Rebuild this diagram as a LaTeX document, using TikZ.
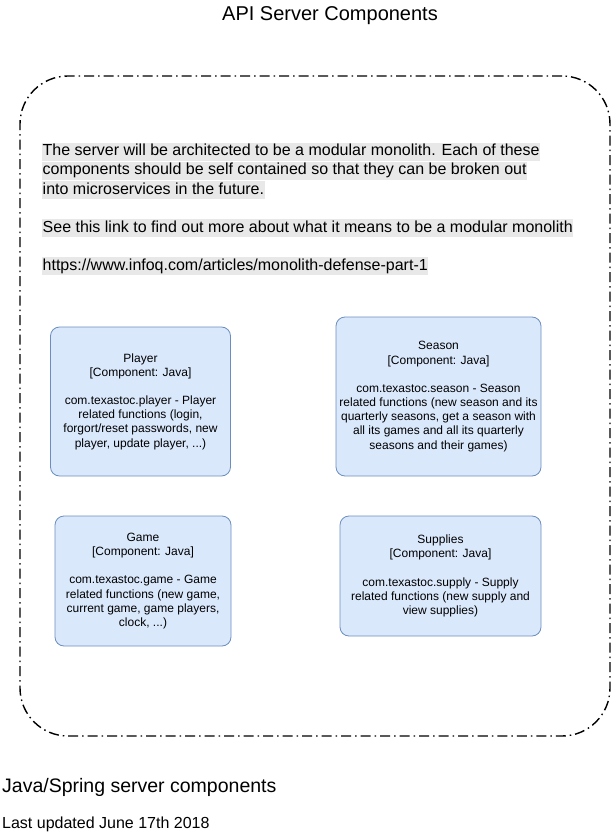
\documentclass[tikz,border=0pt]{standalone}
\usepackage{fontspec}
\setmainfont{Liberation Sans}
\usepackage{xcolor}
\definecolor{cFill}{HTML}{DAE8FC}
\definecolor{cEdge}{HTML}{6C8EBF}
\definecolor{cHigh}{HTML}{E8E8E8}
\usetikzlibrary{positioning}
\tikzset{
  comp-box/.style={draw=cEdge,fill=cFill,rounded corners=9pt,line width=0.8pt,
    align=center,font=\fontsize{12}{14.2}\selectfont},
  group-box/.style={draw=black,line width=1.4pt,rounded corners=48pt,
    dash pattern=on 10pt off 4pt on 1.5pt off 4pt},
  note-line/.style={fill=cHigh,inner sep=0.5pt,text height=12.5pt,text depth=4.5pt,
    font=\fontsize{16}{19}\selectfont},
  title-text/.style={font=\fontsize{20}{24}\selectfont,inner sep=0pt},
}

\begin{document}
\begin{tikzpicture}[x=1pt,y=-1pt]
  \useasboundingbox (0,0) rectangle (612,837);
  \node[title-text] (ttl) at (330,16) {API Server Components};

  % boundary of the server
  \node[group-box,minimum width=590pt,minimum height=660pt] (srv) at (315,406) {};

  % note, every line on its own grey band
  \node[note-line,anchor=west] (n1) at (42,152) {The server will be architected to be a modular monolith. Each of these };
  \node[note-line,anchor=west] (n2) at (42,171) {components should be self contained so that they can be broken out};
  \node[note-line,anchor=west] (n3) at (42,190) {into microservices in the future.};
  \node[note-line,anchor=west] (n4) at (42,228) {See this link to find out more about what it means to be a modular monolith};
  \node[note-line,anchor=west] (n5) at (42,266) {https://www.infoq.com/articles/monolith-defense-part-1};

  % components
  \node[comp-box,minimum width=180pt,minimum height=149pt] (ply) at (140.5,401.5)
    {Player\\{[Component: Java]}\\[14pt]com.texastoc.player - Player\\related functions (login,\\forgort/reset passwords, new\\player, update player, ...)};
  \node[comp-box,minimum width=205pt,minimum height=159pt] (ssn) at (438.5,396.5)
    {Season\\{[Component: Java]}\\[14pt]com.texastoc.season - Season\\related functions (new season and its\\quarterly seasons, get a season with\\all its games and all its quarterly\\seasons and their games)};
  \node[comp-box,minimum width=176pt,minimum height=130pt] (gme) at (143,581)
    {Game\\{[Component: Java]}\\[14pt]com.texastoc.game - Game\\related functions (new game,\\current game, game players,\\clock, ...)};
  \node[comp-box,minimum width=201pt,minimum height=120pt] (sup) at (440.5,576)
    {Supplies\\{[Component: Java]}\\[14pt]com.texastoc.supply - Supply\\related functions (new supply and\\view supplies)};

  \node[inner sep=0pt,anchor=west,font=\fontsize{19.5}{23}\selectfont] (cap) at (2,787) {Java/Spring server components};
  \node[inner sep=0pt,anchor=west,font=\fontsize{16}{19}\selectfont] (upd) at (2,824) {Last updated June 17th 2018};
\end{tikzpicture}
\end{document}
